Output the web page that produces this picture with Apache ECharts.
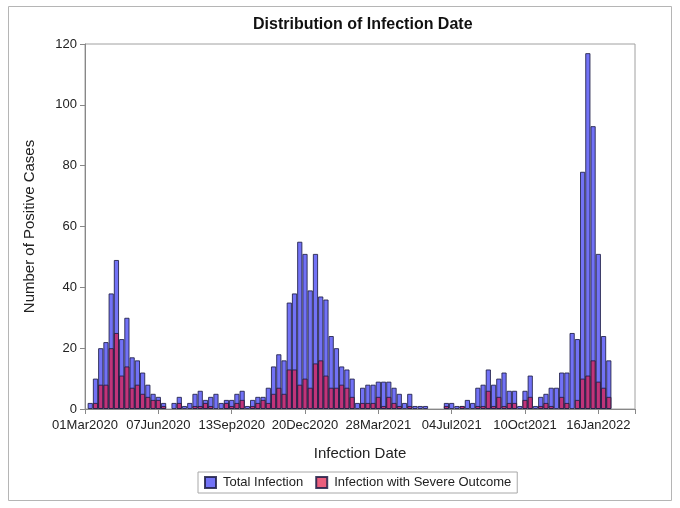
<!DOCTYPE html>
<html><head><meta charset="utf-8">
<script src="https://cdn.jsdelivr.net/npm/echarts@6/dist/echarts.min.js"></script>
<style>html,body{margin:0;padding:0;background:#fff}#c{width:680px;height:508px}</style>
</head><body><div id="c"></div>
<script>
// week index 0 = 01Mar2020, one bar per week
const weekIndex = [];
for (let k = 0; k <= 100; k++) weekIndex.push(k);
const totalInfection = [
  0, 2, 10, 20, 22, 38, 49, 23, 30, 17, 16, 12, 8, 5, 4, 2,
  0, 2, 4, 1, 2, 5, 6, 3, 4, 5, 2, 3, 3, 5, 6, 1,
  3, 4, 4, 7, 14, 18, 16, 35, 38, 55, 51, 39, 51, 37, 36, 24,
  20, 14, 13, 10, 2, 7, 8, 8, 9, 9, 9, 7, 5, 2, 5, 1,
  1, 1, 0, 0, 0, 2, 2, 1, 1, 3, 2, 7, 8, 13, 8, 10,
  12, 6, 6, 1, 6, 11, 1, 4, 5, 7, 7, 12, 12, 25, 23, 78,
  117, 93, 51, 24, 16
];
const severeOutcome = [
  0, 0, 2, 8, 8, 20, 25, 11, 14, 7, 8, 5, 4, 3, 3, 1,
  0, 0, 2, 0, 0, 1, 1, 2, 1, 0, 0, 2, 1, 2, 3, 0,
  1, 2, 3, 2, 5, 7, 5, 13, 13, 8, 10, 7, 15, 16, 11, 7,
  7, 8, 7, 4, 0, 2, 2, 2, 4, 1, 4, 2, 1, 0, 1, 0,
  0, 0, 0, 0, 0, 1, 0, 0, 1, 0, 0, 1, 1, 6, 1, 4,
  1, 2, 2, 0, 3, 4, 0, 1, 2, 1, 0, 4, 2, 0, 3, 10,
  11, 16, 9, 7, 4
];
const tickLabels = ['01Mar2020','07Jun2020','13Sep2020','20Dec2020','28Mar2021','04Jul2021','10Oct2021','16Jan2022'];
const yTicks = [0, 20, 40, 60, 80, 100, 120];

const GRID = {left: 85, right: 45, top: 44, bottom: 99};
const X_MAX = 105;
const barW = (680 - GRID.left - GRID.right) / X_MAX;
const toPairs = arr => weekIndex.map(k => [k, arr[k] ? arr[k] : null]);

const chart = echarts.init(document.getElementById('c'), null, {renderer: 'canvas'});
const font = 'Liberation Sans';
chart.setOption({
  animation: false,
  backgroundColor: '#fff',
  textStyle: {fontFamily: font},
  title: {
    text: 'Distribution of Infection Date',
    left: 248, top: 12,
    textStyle: {fontFamily: font, fontSize: 16, fontWeight: 'bold', color: '#111'}
  },
  graphic: [{
    type: 'rect', silent: true,
    shape: {x: 8.5, y: 6.5, width: 663, height: 494},
    style: {fill: 'none', stroke: '#b5b5b5', lineWidth: 1}
  }],
  legend: {
    left: 198, top: 472,
    icon: 'rect',
    itemWidth: 11, itemHeight: 11, itemGap: 12,
    borderColor: '#a8a8a8', borderWidth: 1, padding: [4, 6],
    textStyle: {fontFamily: font, fontSize: 13, color: '#222', padding: [0, 0, 0, 2]},
    data: ['Total Infection', 'Infection with Severe Outcome']
  },
  grid: Object.assign({show: true, borderColor: '#a0a0a0', borderWidth: 1, backgroundColor: '#fff'}, GRID),
  xAxis: {
    type: 'value', min: 0, max: X_MAX, interval: 14,
    name: 'Infection Date', nameLocation: 'middle', nameGap: 37,
    nameTextStyle: {fontFamily: font, fontSize: 15, color: '#222'},
    axisLine: {show: true, lineStyle: {color: '#888'}},
    axisTick: {show: true, length: 5, lineStyle: {color: '#888'}},
    splitLine: {show: false},
    axisLabel: {
      fontFamily: font, fontSize: 13, color: '#222', margin: 10,
      formatter: v => tickLabels[Math.round(v / 14)] || ''
    }
  },
  yAxis: {
    type: 'value', min: yTicks[0], max: yTicks[yTicks.length - 1], interval: 20,
    name: 'Number of Positive Cases', nameLocation: 'middle', nameGap: 48, nameRotate: 90,
    nameTextStyle: {fontFamily: font, fontSize: 15, color: '#222'},
    axisLine: {show: true, lineStyle: {color: '#888'}},
    axisTick: {show: true, length: 5, lineStyle: {color: '#888'}},
    splitLine: {show: false},
    axisLabel: {fontFamily: font, fontSize: 13, color: '#222', margin: 8}
  },
  series: [{
    name: 'Total Infection', type: 'bar',
    barWidth: barW, barGap: '-100%',
    itemStyle: {color: 'rgb(114,114,246)', borderColor: 'rgba(30,30,70,0.85)', borderWidth: 1},
    data: toPairs(totalInfection)
  }, {
    name: 'Infection with Severe Outcome', type: 'bar',
    barWidth: barW, barGap: '-100%',
    itemStyle: {color: 'rgba(225,25,70,0.7)', borderColor: 'rgba(30,30,70,0.85)', borderWidth: 1},
    data: toPairs(severeOutcome)
  }]
});
</script></body></html>
